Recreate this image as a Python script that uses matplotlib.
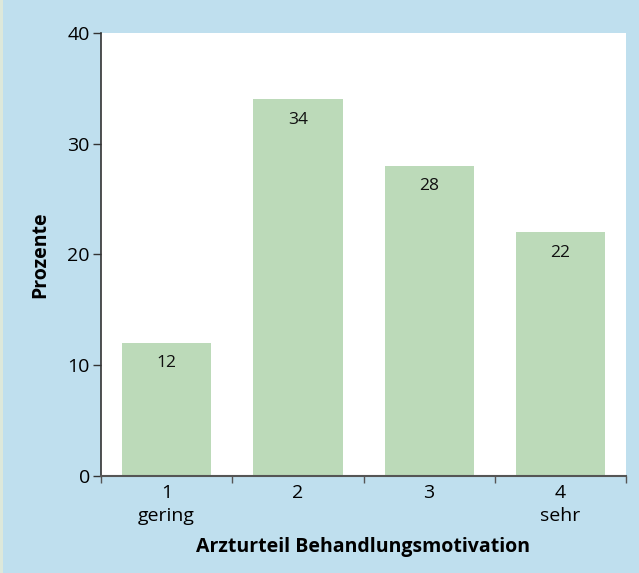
import matplotlib
matplotlib.use("Agg")
import matplotlib.pyplot as plt
from matplotlib.patches import Rectangle

categories = [1, 2, 3, 4]
tick_labels = ["1\ngering", "2", "3", "4\nsehr"]
percent = [12, 34, 28, 22]

plt.rcParams["font.family"] = ["Open Sans", "DejaVu Sans"]

bg = "#BFDFEE"
bar_color = "#BCDAB9"
spine_color = "#333333"

fig = plt.figure(figsize=(6.39, 5.73), dpi=100, facecolor=bg)
fig.patches.append(Rectangle((0, 0), 3 / 639, 1, transform=fig.transFigure,
                             facecolor="#DDE8DA", edgecolor="none", zorder=0))
ax = fig.add_axes([101 / 639, 1 - 476 / 573, 525 / 639, 443 / 573])
ax.set_facecolor("white")

bars = ax.bar(categories, percent, width=0.68, color=bar_color, zorder=2)
for b, v in zip(bars, percent):
    ax.text(b.get_x() + b.get_width() / 2, v - 1.1, f"{v}",
            ha="center", va="top", fontsize=12.5, color="#111111", zorder=3)

ax.set_xlim(0.5, 4.5)
ax.set_ylim(0, 40)
ax.set_yticks([0, 10, 20, 30, 40])
ax.set_xticks([0.5, 1.5, 2.5, 3.5, 4.5])
ax.set_xticklabels([])
ax.set_xticks(categories, minor=True)
ax.set_xticklabels(tick_labels, minor=True, fontsize=14, linespacing=1.3)
ax.tick_params(axis="x", which="minor", length=0, pad=6)
ax.tick_params(axis="x", which="major", length=5, width=1, color="#555555", direction="out")
ax.tick_params(axis="y", length=6, width=1, color=spine_color, labelsize=14, pad=2)

for s in ["top", "right"]:
    ax.spines[s].set_visible(False)
ax.spines["left"].set_color(spine_color)
ax.spines["bottom"].set_color("#555555")
ax.spines["left"].set_linewidth(1.2)
ax.spines["bottom"].set_linewidth(1.5)

ax.set_ylabel("Prozente", fontsize=14, fontweight="bold", labelpad=12)
ax.set_xlabel("Arzturteil Behandlungsmotivation", fontsize=14, fontweight="bold", labelpad=9)

fig.savefig("out.png", dpi=100, facecolor=bg)
